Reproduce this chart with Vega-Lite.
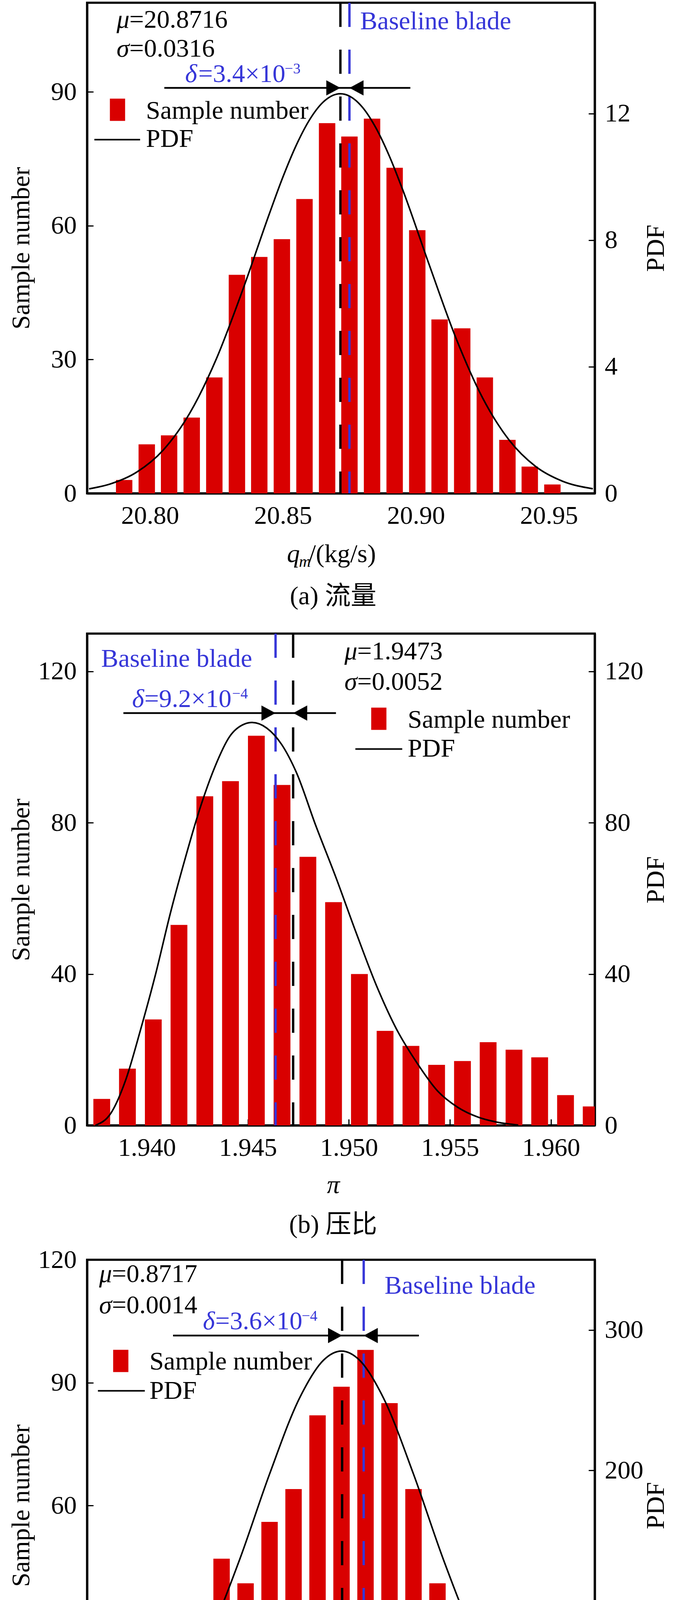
{
  "$schema": "https://vega.github.io/schema/vega-lite/v6.json",
  "background": "white",
  "padding": {"left": 18, "top": 1, "right": 5, "bottom": 0},
  "spacing": 53,
  "datasets": {
    "one": [{}],
    "barsA": [
      {"x": 20.7903, "n": 3}, {"x": 20.7988, "n": 11}, {"x": 20.8072, "n": 13}, {"x": 20.8157, "n": 17},
      {"x": 20.8242, "n": 26}, {"x": 20.8327, "n": 49}, {"x": 20.8411, "n": 53}, {"x": 20.8496, "n": 57},
      {"x": 20.8581, "n": 66}, {"x": 20.8666, "n": 83}, {"x": 20.8750, "n": 80}, {"x": 20.8835, "n": 84},
      {"x": 20.8920, "n": 73}, {"x": 20.9005, "n": 59}, {"x": 20.9089, "n": 39}, {"x": 20.9174, "n": 37},
      {"x": 20.9259, "n": 26}, {"x": 20.9344, "n": 12}, {"x": 20.9428, "n": 6}, {"x": 20.9513, "n": 2}
    ],
    "pdfA": [
      {"x": 20.7771, "p": 0.143}, {"x": 20.785, "p": 0.295}, {"x": 20.795, "p": 0.669}, {"x": 20.805, "p": 1.369},
      {"x": 20.815, "p": 2.539}, {"x": 20.825, "p": 4.256}, {"x": 20.835, "p": 6.455}, {"x": 20.845, "p": 8.858},
      {"x": 20.85, "p": 9.995}, {"x": 20.855, "p": 10.997}, {"x": 20.86, "p": 11.801}, {"x": 20.865, "p": 12.352},
      {"x": 20.87, "p": 12.608}, {"x": 20.8716, "p": 12.624}, {"x": 20.875, "p": 12.551}, {"x": 20.88, "p": 12.186},
      {"x": 20.885, "p": 11.538}, {"x": 20.89, "p": 10.656}, {"x": 20.895, "p": 9.597}, {"x": 20.905, "p": 7.221},
      {"x": 20.915, "p": 4.916}, {"x": 20.925, "p": 3.027}, {"x": 20.935, "p": 1.687}, {"x": 20.945, "p": 0.85},
      {"x": 20.955, "p": 0.388}, {"x": 20.9665, "p": 0.146}
    ],
    "barsB": [
      {"x": 1.93777, "n": 7}, {"x": 1.93904, "n": 15}, {"x": 1.94032, "n": 28}, {"x": 1.94159, "n": 53},
      {"x": 1.94287, "n": 87}, {"x": 1.94414, "n": 91}, {"x": 1.94542, "n": 103}, {"x": 1.94669, "n": 90},
      {"x": 1.94797, "n": 71}, {"x": 1.94924, "n": 59}, {"x": 1.95052, "n": 40}, {"x": 1.95179, "n": 25},
      {"x": 1.95307, "n": 21}, {"x": 1.95434, "n": 16}, {"x": 1.95562, "n": 17}, {"x": 1.95689, "n": 22},
      {"x": 1.95817, "n": 20}, {"x": 1.95944, "n": 18}, {"x": 1.96072, "n": 8}, {"x": 1.96199, "n": 5}
    ],
    "pdfB": [
      {"x": 1.93745, "p": 0}, {"x": 1.93823, "p": 3.3}, {"x": 1.93896, "p": 12.1}, {"x": 1.93969, "p": 25.3},
      {"x": 1.94043, "p": 39.9}, {"x": 1.94116, "p": 56.0}, {"x": 1.9419, "p": 70.6}, {"x": 1.94263, "p": 83.8},
      {"x": 1.94337, "p": 94.8}, {"x": 1.9441, "p": 102.8}, {"x": 1.94484, "p": 106.1}, {"x": 1.94521, "p": 106.5},
      {"x": 1.94594, "p": 105.0}, {"x": 1.94667, "p": 100.7}, {"x": 1.9474, "p": 93.3}, {"x": 1.94835, "p": 79.4},
      {"x": 1.94936, "p": 65.5}, {"x": 1.95036, "p": 50.9}, {"x": 1.95136, "p": 37.0}, {"x": 1.95237, "p": 25.3},
      {"x": 1.95337, "p": 16.5}, {"x": 1.95437, "p": 9.2}, {"x": 1.95538, "p": 4.8}, {"x": 1.95638, "p": 2.2},
      {"x": 1.95738, "p": 0.8}, {"x": 1.95838, "p": 0.1}
    ],
    "barsC": [
      {"x": 0.8677, "n": 2}, {"x": 0.8681, "n": 5}, {"x": 0.8685, "n": 11}, {"x": 0.8689, "n": 13},
      {"x": 0.8693, "n": 17}, {"x": 0.8697, "n": 47}, {"x": 0.8701, "n": 41}, {"x": 0.8705, "n": 56},
      {"x": 0.8709, "n": 64}, {"x": 0.8713, "n": 82}, {"x": 0.8717, "n": 89}, {"x": 0.8721, "n": 98},
      {"x": 0.8725, "n": 85}, {"x": 0.8729, "n": 64}, {"x": 0.8733, "n": 41}, {"x": 0.8737, "n": 35},
      {"x": 0.8741, "n": 22}, {"x": 0.8745, "n": 15}, {"x": 0.8749, "n": 7}, {"x": 0.8753, "n": 2}
    ],
    "pdfC": [
      {"x": 0.8675, "p": 3.17}, {"x": 0.868, "p": 8.67}, {"x": 0.8685, "p": 20.91}, {"x": 0.869, "p": 44.37},
      {"x": 0.8695, "p": 82.9}, {"x": 0.87, "p": 136.34}, {"x": 0.8705, "p": 197.36}, {"x": 0.871, "p": 251.49},
      {"x": 0.8714, "p": 278.5}, {"x": 0.8717, "p": 284.97}, {"x": 0.872, "p": 278.5}, {"x": 0.8724, "p": 251.49},
      {"x": 0.8729, "p": 197.36}, {"x": 0.8734, "p": 136.34}, {"x": 0.8739, "p": 82.9}, {"x": 0.8744, "p": 44.37},
      {"x": 0.8749, "p": 20.91}, {"x": 0.8754, "p": 8.67}, {"x": 0.8759, "p": 3.17}
    ]
  },
  "vconcat": [
    {
      "width": 1300,
      "height": 1256,
      "title": {"text": "(a) 流量", "orient": "bottom", "frame": "group", "baseline": "alphabetic", "offset": 88, "dx": -20, "font": "Liberation Serif, Noto Sans CJK SC", "fontSize": 66, "fontWeight": "normal", "color": "black"},
      "resolve": {"scale": {"y": "independent"}},
      "layer": [
        {
          "layer": [
            {
              "data": {"name": "barsA"},
              "mark": {"type": "bar", "color": "#d90000", "size": 42, "clip": true},
              "encoding": {
                "x": {"field": "x", "type": "quantitative", "scale": {"domain": [20.7771, 20.9665], "nice": false, "zero": false},
                      "axis": {"values": [20.80, 20.85, 20.90, 20.95], "format": ".2f", "title": null, "labelPadding": 41}},
                "y": {"field": "n", "type": "quantitative", "scale": {"domain": [0, 110], "nice": false},
                      "axis": {"values": [0, 30, 60, 90], "title": "Sample number", "titleX": -169, "titleY": 628, "titleAngle": -90, "titleAlign": "center", "titleBaseline": "middle", "labelPadding": 43}}
              }
            },
            {
              "data": {"name": "one"},
              "layer": [
                {"mark": {"type": "rule", "color": "black", "strokeWidth": 6, "strokeDash": [62, 58]}, "encoding": {"x": {"datum": 20.8716}}},
                {"mark": {"type": "rule", "color": "#3636d8", "strokeWidth": 6, "strokeDash": [62, 58]}, "encoding": {"x": {"datum": 20.8750}}},
                {"mark": {"type": "rule", "color": "black", "strokeWidth": 4.5}, "encoding": {"x": {"datum": 20.8054}, "x2": {"datum": 20.8979}, "y": {"datum": 90.9}}},
                {"mark": {"type": "point", "shape": "M0,0L-1.85,-1L-1.85,1Z", "filled": true, "color": "black", "opacity": 1, "size": 1521}, "encoding": {"x": {"datum": 20.8716}, "y": {"datum": 90.9}}},
                {"mark": {"type": "point", "shape": "M0,0L1.85,-1L1.85,1Z", "filled": true, "color": "black", "opacity": 1, "size": 1521}, "encoding": {"x": {"datum": 20.8750}, "y": {"datum": 90.9}}},
                {"mark": {"type": "text", "text": ["μ", "σ"], "lineHeight": 74, "font": "Liberation Serif", "fontStyle": "italic", "fontSize": 66, "align": "left", "baseline": "alphabetic", "color": "black"}, "encoding": {"x": {"datum": 20.78744}, "y": {"datum": 104.43}}},
                {"mark": {"type": "text", "text": ["=20.8716", "=0.0316"], "lineHeight": 74, "font": "Liberation Serif", "fontSize": 66, "align": "left", "baseline": "alphabetic", "color": "black"}, "encoding": {"x": {"datum": 20.79225}, "y": {"datum": 104.43}}},
                {"mark": {"type": "text", "text": "δ", "font": "Liberation Serif", "fontStyle": "italic", "fontSize": 66, "align": "left", "baseline": "alphabetic", "color": "#3636d8"}, "encoding": {"x": {"datum": 20.81322}, "y": {"datum": 92.19}}},
                {"mark": {"type": "text", "text": "=3.4×10", "font": "Liberation Serif", "fontSize": 66, "align": "left", "baseline": "alphabetic", "color": "#3636d8"}, "encoding": {"x": {"datum": 20.81817}, "y": {"datum": 92.19}}},
                {"mark": {"type": "text", "text": "−3", "font": "Liberation Serif", "fontSize": 38, "align": "left", "baseline": "alphabetic", "color": "#3636d8"}, "encoding": {"x": {"datum": 20.85065}, "y": {"datum": 94.11}}},
                {"mark": {"type": "text", "text": "Baseline blade", "font": "Liberation Serif", "fontSize": 66, "align": "left", "baseline": "alphabetic", "color": "#3636d8"}, "encoding": {"x": {"datum": 20.87904}, "y": {"datum": 104.08}}},
                {"mark": {"type": "point", "shape": "M-0.684,-1L0.684,-1L0.684,1L-0.684,1Z", "filled": true, "color": "#d90000", "opacity": 1, "size": 3249}, "encoding": {"x": {"datum": 20.7878}, "y": {"datum": 86.0}}},
                {"mark": {"type": "rule", "color": "black", "strokeWidth": 4}, "encoding": {"x": {"datum": 20.7791}, "x2": {"datum": 20.7963}, "y": {"datum": 79.3}}},
                {"mark": {"type": "text", "text": ["Sample number", "PDF"], "lineHeight": 72, "font": "Liberation Serif", "fontSize": 66, "align": "left", "baseline": "alphabetic", "color": "black"}, "encoding": {"x": {"datum": 20.79851}, "y": {"datum": 83.97}}},
                {"mark": {"type": "text", "text": "q", "font": "Liberation Serif", "fontStyle": "italic", "fontSize": 66, "align": "left", "baseline": "alphabetic", "color": "black"}, "encoding": {"x": {"datum": 20.85152}, "y": {"datum": -15.39}}},
                {"mark": {"type": "text", "text": "m", "font": "Liberation Serif", "fontStyle": "italic", "fontSize": 42, "align": "left", "baseline": "alphabetic", "color": "black"}, "encoding": {"x": {"datum": 20.85603}, "y": {"datum": -16.44}}},
                {"mark": {"type": "text", "text": "/(kg/s)", "font": "Liberation Serif", "fontSize": 66, "align": "left", "baseline": "alphabetic", "color": "black"}, "encoding": {"x": {"datum": 20.85967}, "y": {"datum": -15.39}}}
              ]
            }
          ]
        },
        {
          "data": {"name": "pdfA"},
          "mark": {"type": "line", "color": "black", "strokeWidth": 4, "interpolate": "monotone", "clip": true},
          "encoding": {
            "x": {"field": "x", "type": "quantitative"},
            "y": {"field": "p", "type": "quantitative", "scale": {"domain": [0, 15.5], "nice": false},
                  "axis": {"orient": "right", "values": [0, 4, 8, 12], "title": "PDF", "titleX": 156, "titleY": 628, "titleAngle": -90, "titleAlign": "center", "titleBaseline": "middle", "labelPadding": 41}}
          }
        }
      ]
    },
    {
      "spacing": 17,
      "vconcat": [
        {
          "width": 1300,
          "height": 1259,
          "title": {"text": "(b) 压比", "orient": "bottom", "frame": "group", "baseline": "alphabetic", "offset": 90, "dx": -20, "font": "Liberation Serif, Noto Sans CJK SC", "fontSize": 66, "fontWeight": "normal", "color": "black"},
          "resolve": {"scale": {"y": "independent"}},
          "layer": [
            {
              "layer": [
                {
                  "data": {"name": "barsB"},
                  "mark": {"type": "bar", "color": "#d90000", "size": 43, "clip": true},
                  "encoding": {
                    "x": {"field": "x", "type": "quantitative", "scale": {"domain": [1.93714, 1.96207], "nice": false, "zero": false},
                          "axis": {"values": [1.940, 1.945, 1.950, 1.955, 1.960], "format": ".3f", "title": "π", "titleFontStyle": "italic", "titleX": 630, "titleY": 172, "titleBaseline": "alphabetic", "titleAlign": "center", "labelPadding": 41}},
                    "y": {"field": "n", "type": "quantitative", "scale": {"domain": [0, 130], "nice": false},
                          "axis": {"values": [0, 40, 80, 120], "title": "Sample number", "titleX": -169, "titleY": 630, "titleAngle": -90, "titleAlign": "center", "titleBaseline": "middle", "labelPadding": 43}}
                  }
                },
                {
                  "data": {"name": "one"},
                  "layer": [
                    {"mark": {"type": "rule", "color": "#3636d8", "strokeWidth": 6, "strokeDash": [62, 58]}, "encoding": {"x": {"datum": 1.94637}}},
                    {"mark": {"type": "rule", "color": "black", "strokeWidth": 6, "strokeDash": [62, 58]}, "encoding": {"x": {"datum": 1.94724}}},
                    {"mark": {"type": "rule", "color": "black", "strokeWidth": 4.5}, "encoding": {"x": {"datum": 1.93884}, "x2": {"datum": 1.94936}, "y": {"datum": 109.0}}},
                    {"mark": {"type": "point", "shape": "M0,0L-1.85,-1L-1.85,1Z", "filled": true, "color": "black", "opacity": 1, "size": 1521}, "encoding": {"x": {"datum": 1.94637}, "y": {"datum": 109.0}}},
                    {"mark": {"type": "point", "shape": "M0,0L1.85,-1L1.85,1Z", "filled": true, "color": "black", "opacity": 1, "size": 1521}, "encoding": {"x": {"datum": 1.94724}, "y": {"datum": 109.0}}},
                    {"mark": {"type": "text", "text": "Baseline blade", "font": "Liberation Serif", "fontSize": 66, "align": "left", "baseline": "alphabetic", "color": "#3636d8"}, "encoding": {"x": {"datum": 1.93774}, "y": {"datum": 121.2}}},
                    {"mark": {"type": "text", "text": "δ", "font": "Liberation Serif", "fontStyle": "italic", "fontSize": 66, "align": "left", "baseline": "alphabetic", "color": "#3636d8"}, "encoding": {"x": {"datum": 1.93927}, "y": {"datum": 110.6}}},
                    {"mark": {"type": "text", "text": "=9.2×10", "font": "Liberation Serif", "fontSize": 66, "align": "left", "baseline": "alphabetic", "color": "#3636d8"}, "encoding": {"x": {"datum": 1.93988}, "y": {"datum": 110.6}}},
                    {"mark": {"type": "text", "text": "−4", "font": "Liberation Serif", "fontSize": 38, "align": "left", "baseline": "alphabetic", "color": "#3636d8"}, "encoding": {"x": {"datum": 1.94422}, "y": {"datum": 112.9}}},
                    {"mark": {"type": "text", "text": ["μ", "σ"], "lineHeight": 78, "font": "Liberation Serif", "fontStyle": "italic", "fontSize": 66, "align": "left", "baseline": "alphabetic", "color": "black"}, "encoding": {"x": {"datum": 1.94978}, "y": {"datum": 123.2}}},
                    {"mark": {"type": "text", "text": ["=1.9473", "=0.0052"], "lineHeight": 78, "font": "Liberation Serif", "fontSize": 66, "align": "left", "baseline": "alphabetic", "color": "black"}, "encoding": {"x": {"datum": 1.95041}, "y": {"datum": 123.2}}},
                    {"mark": {"type": "point", "shape": "M-0.684,-1L0.684,-1L0.684,1L-0.684,1Z", "filled": true, "color": "#d90000", "opacity": 1, "size": 3249}, "encoding": {"x": {"datum": 1.95148}, "y": {"datum": 107.5}}},
                    {"mark": {"type": "rule", "color": "black", "strokeWidth": 4}, "encoding": {"x": {"datum": 1.95032}, "x2": {"datum": 1.95264}, "y": {"datum": 99.5}}},
                    {"mark": {"type": "text", "text": ["Sample number", "PDF"], "lineHeight": 74, "font": "Liberation Serif", "fontSize": 66, "align": "left", "baseline": "alphabetic", "color": "black"}, "encoding": {"x": {"datum": 1.95291}, "y": {"datum": 105.1}}}
                  ]
                }
              ]
            },
            {
              "data": {"name": "pdfB"},
              "mark": {"type": "line", "color": "black", "strokeWidth": 4, "interpolate": "monotone", "clip": true},
              "encoding": {
                "x": {"field": "x", "type": "quantitative"},
                "y": {"field": "p", "type": "quantitative", "scale": {"domain": [0, 130], "nice": false},
                      "axis": {"orient": "right", "values": [0, 40, 80, 120], "title": "PDF", "titleX": 156, "titleY": 630, "titleAngle": -90, "titleAlign": "center", "titleBaseline": "middle", "labelPadding": 41}}
              }
            }
          ]
        },
        {
          "width": 1300,
          "height": 1258,
          "title": {"text": "(c) 效率", "orient": "bottom", "frame": "group", "baseline": "alphabetic", "offset": 92, "dx": -20, "font": "Liberation Serif, Noto Sans CJK SC", "fontSize": 66, "fontWeight": "normal", "color": "black"},
          "resolve": {"scale": {"y": "independent"}},
          "layer": [
            {
              "layer": [
                {
                  "data": {"name": "barsC"},
                  "mark": {"type": "bar", "color": "#d90000", "size": 42, "clip": true},
                  "encoding": {
                    "x": {"field": "x", "type": "quantitative", "scale": {"domain": [0.86749, 0.87589], "nice": false, "zero": false},
                          "axis": {"values": [0.868, 0.870, 0.872, 0.874], "format": ".3f", "title": "η", "titleFontStyle": "italic", "titleX": 648, "titleY": 172, "titleBaseline": "alphabetic", "titleAlign": "center", "labelPadding": 41}},
                    "y": {"field": "n", "type": "quantitative", "scale": {"domain": [0, 120], "nice": false},
                          "axis": {"values": [0, 30, 60, 90, 120], "title": "Sample number", "titleX": -169, "titleY": 629, "titleAngle": -90, "titleAlign": "center", "titleBaseline": "middle", "labelPadding": 43}}
                  }
                },
                {
                  "data": {"name": "one"},
                  "layer": [
                    {"mark": {"type": "rule", "color": "black", "strokeWidth": 6, "strokeDash": [62, 58]}, "encoding": {"x": {"datum": 0.87171}}},
                    {"mark": {"type": "rule", "color": "#3636d8", "strokeWidth": 6, "strokeDash": [62, 58]}, "encoding": {"x": {"datum": 0.87207}}},
                    {"mark": {"type": "rule", "color": "black", "strokeWidth": 4.5}, "encoding": {"x": {"datum": 0.868891}, "x2": {"datum": 0.87299}, "y": {"datum": 101.5}}},
                    {"mark": {"type": "point", "shape": "M0,0L-1.85,-1L-1.85,1Z", "filled": true, "color": "black", "opacity": 1, "size": 1521}, "encoding": {"x": {"datum": 0.87171}, "y": {"datum": 101.5}}},
                    {"mark": {"type": "point", "shape": "M0,0L1.85,-1L1.85,1Z", "filled": true, "color": "black", "opacity": 1, "size": 1521}, "encoding": {"x": {"datum": 0.87207}, "y": {"datum": 101.5}}},
                    {"mark": {"type": "text", "text": ["μ", "σ"], "lineHeight": 80, "font": "Liberation Serif", "fontStyle": "italic", "fontSize": 66, "align": "left", "baseline": "alphabetic", "color": "black"}, "encoding": {"x": {"datum": 0.867658}, "y": {"datum": 114.6}}},
                    {"mark": {"type": "text", "text": ["=0.8717", "=0.0014"], "lineHeight": 80, "font": "Liberation Serif", "fontSize": 66, "align": "left", "baseline": "alphabetic", "color": "black"}, "encoding": {"x": {"datum": 0.867871}, "y": {"datum": 114.6}}},
                    {"mark": {"type": "text", "text": "δ", "font": "Liberation Serif", "fontStyle": "italic", "fontSize": 66, "align": "left", "baseline": "alphabetic", "color": "#3636d8"}, "encoding": {"x": {"datum": 0.869388}, "y": {"datum": 103.0}}},
                    {"mark": {"type": "text", "text": "=3.6×10", "font": "Liberation Serif", "fontSize": 66, "align": "left", "baseline": "alphabetic", "color": "#3636d8"}, "encoding": {"x": {"datum": 0.869595}, "y": {"datum": 103.0}}},
                    {"mark": {"type": "text", "text": "−4", "font": "Liberation Serif", "fontSize": 38, "align": "left", "baseline": "alphabetic", "color": "#3636d8"}, "encoding": {"x": {"datum": 0.871035}, "y": {"datum": 105.1}}},
                    {"mark": {"type": "text", "text": "Baseline blade", "font": "Liberation Serif", "fontSize": 66, "align": "left", "baseline": "alphabetic", "color": "#3636d8"}, "encoding": {"x": {"datum": 0.872417}, "y": {"datum": 111.7}}},
                    {"mark": {"type": "point", "shape": "M-0.684,-1L0.684,-1L0.684,1L-0.684,1Z", "filled": true, "color": "#d90000", "opacity": 1, "size": 3249}, "encoding": {"x": {"datum": 0.868019}, "y": {"datum": 95.3}}},
                    {"mark": {"type": "rule", "color": "black", "strokeWidth": 4}, "encoding": {"x": {"datum": 0.867638}, "x2": {"datum": 0.86842}, "y": {"datum": 88.0}}},
                    {"mark": {"type": "text", "text": ["Sample number", "PDF"], "lineHeight": 75, "font": "Liberation Serif", "fontSize": 66, "align": "left", "baseline": "alphabetic", "color": "black"}, "encoding": {"x": {"datum": 0.868497}, "y": {"datum": 93.2}}}
                  ]
                }
              ]
            },
            {
              "data": {"name": "pdfC"},
              "mark": {"type": "line", "color": "black", "strokeWidth": 4, "interpolate": "monotone", "clip": true},
              "encoding": {
                "x": {"field": "x", "type": "quantitative"},
                "y": {"field": "p", "type": "quantitative", "scale": {"domain": [0, 350], "nice": false},
                      "axis": {"orient": "right", "values": [0, 100, 200, 300], "title": "PDF", "titleX": 156, "titleY": 629, "titleAngle": -90, "titleAlign": "center", "titleBaseline": "middle", "labelPadding": 41}}
              }
            }
          ]
        }
      ]
    }
  ],
  "config": {
    "font": "Liberation Serif",
    "view": {"stroke": "black", "strokeWidth": 5.5},
    "axis": {
      "grid": false,
      "domainColor": "black",
      "domainWidth": 5.5,
      "tickColor": "black",
      "tickWidth": 3,
      "tickSize": -16,
      "labelFont": "Liberation Serif",
      "labelFontSize": 66,
      "labelColor": "black",
      "labelFlush": false,
      "labelOverlap": false,
      "titleFont": "Liberation Serif",
      "titleFontSize": 66,
      "titleFontWeight": "normal",
      "titleColor": "black"
    }
  }
}
